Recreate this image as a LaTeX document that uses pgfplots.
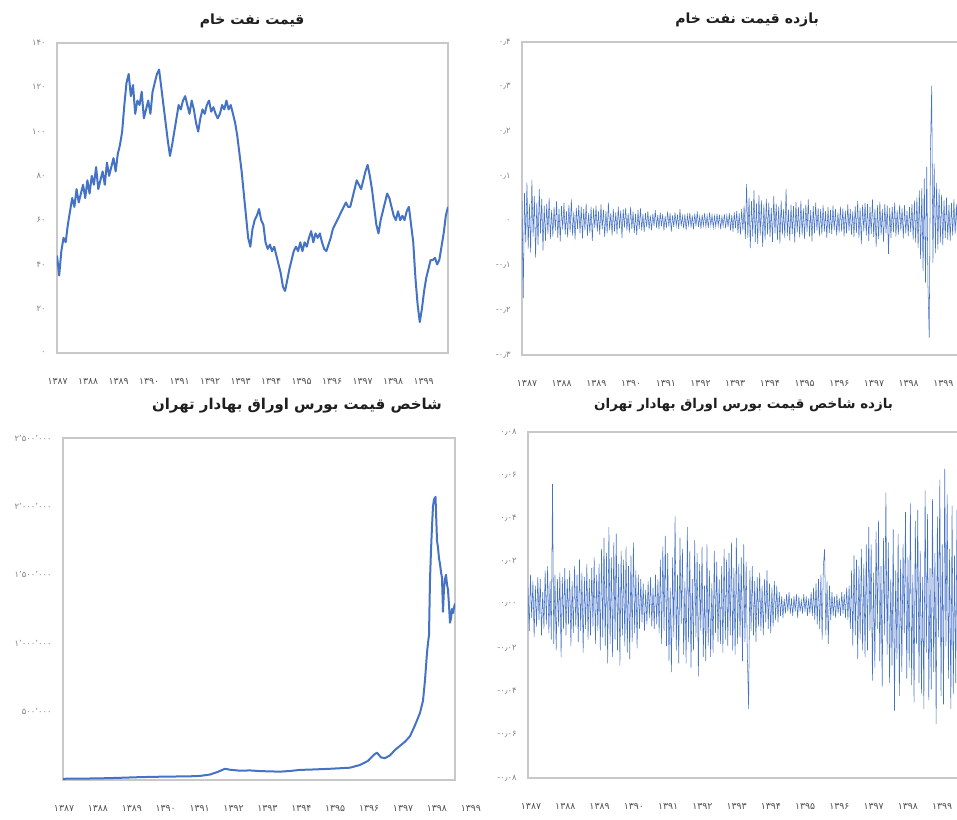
\documentclass[border=0pt]{standalone}
\usepackage{pgfplots}
\pgfplotsset{compat=1.18}
\usepackage{pgfplotstable}
\usepackage{fontspec}
\TeXXeTstate=1
\newfontfamily\fa[Script=Arabic]{DejaVu Sans}
\definecolor{lineblue}{RGB}{68,114,196}
\definecolor{boxgray}{RGB}{200,200,200}
\definecolor{tickgray}{RGB}{128,128,128}
\definecolor{yeargray}{RGB}{80,80,80}
\definecolor{titlegray}{RGB}{30,30,30}

\pgfplotstableread[row sep=\\]{r\\
44\\35\\46\\52\\50\\58\\64\\70\\66\\74\\68\\72\\76\\70\\78\\
72\\80\\76\\84\\74\\78\\82\\76\\86\\80\\84\\88\\82\\90\\94\\
100\\112\\122\\126\\116\\121\\108\\114\\112\\118\\106\\110\\114\\108\\118\\
122\\126\\128\\120\\112\\104\\96\\89\\94\\100\\106\\112\\110\\114\\116\\
112\\108\\114\\110\\104\\100\\106\\110\\108\\112\\114\\109\\111\\108\\106\\
108\\112\\110\\114\\110\\112\\108\\104\\98\\90\\82\\72\\62\\52\\48\\
56\\60\\62\\65\\60\\58\\50\\47\\49\\46\\48\\44\\40\\36\\30\\
28\\33\\38\\42\\46\\48\\46\\50\\46\\50\\48\\52\\55\\50\\54\\
52\\54\\50\\47\\46\\49\\52\\56\\58\\60\\62\\64\\66\\68\\66\\
66\\70\\74\\78\\76\\74\\78\\82\\85\\80\\74\\66\\58\\54\\60\\
64\\68\\72\\70\\66\\62\\60\\64\\60\\62\\60\\64\\66\\58\\50\\
34\\22\\14\\20\\28\\34\\38\\42\\42\\43\\40\\42\\48\\54\\62\\
66\\
}\oilprice

\pgfplotstableread[row sep=\\]{r\\
0.045\\-0.172\\0.062\\-0.048\\0.085\\-0.062\\0.038\\-0.071\\0.092\\-0.035\\
0.056\\-0.082\\0.041\\-0.054\\0.071\\-0.028\\0.049\\-0.066\\0.034\\-0.045\\
0.038\\-0.029\\0.052\\-0.041\\0.024\\-0.035\\0.031\\-0.022\\0.044\\-0.038\\
0.027\\-0.046\\0.033\\-0.019\\0.041\\-0.031\\0.022\\-0.037\\0.036\\-0.025\\
0.048\\-0.033\\0.021\\-0.042\\0.029\\-0.018\\0.035\\-0.028\\0.031\\-0.039\\
0.026\\-0.021\\0.039\\-0.034\\0.018\\-0.027\\0.032\\-0.045\\0.028\\-0.016\\
0.034\\-0.024\\0.021\\-0.031\\0.037\\-0.019\\0.025\\-0.036\\0.022\\-0.028\\
0.041\\-0.021\\0.018\\-0.033\\0.027\\-0.024\\0.019\\-0.029\\0.032\\-0.017\\
0.023\\-0.038\\0.026\\-0.015\\0.029\\-0.022\\0.017\\-0.026\\0.031\\-0.019\\
0.021\\-0.027\\0.016\\-0.032\\0.024\\-0.018\\0.028\\-0.021\\0.015\\-0.025\\
0.018\\-0.014\\0.022\\-0.019\\0.012\\-0.021\\0.016\\-0.011\\0.024\\-0.015\\
0.013\\-0.018\\0.019\\-0.012\\0.015\\-0.022\\0.011\\-0.016\\0.021\\-0.013\\
0.017\\-0.024\\0.012\\-0.014\\0.019\\-0.011\\0.014\\-0.018\\0.026\\-0.012\\
0.011\\-0.017\\0.015\\-0.021\\0.013\\-0.010\\0.018\\-0.015\\0.012\\-0.019\\
0.016\\-0.012\\0.021\\-0.014\\0.010\\-0.018\\0.014\\-0.011\\0.017\\-0.013\\
0.012\\-0.016\\0.019\\-0.010\\0.013\\-0.015\\0.011\\-0.013\\0.016\\-0.011\\
0.014\\-0.019\\0.010\\-0.012\\0.015\\-0.017\\0.012\\-0.014\\0.018\\-0.021\\
0.013\\-0.024\\0.019\\-0.016\\0.022\\-0.028\\0.017\\-0.031\\0.026\\-0.022\\
0.034\\-0.041\\0.082\\-0.038\\0.052\\-0.061\\0.044\\-0.035\\0.068\\-0.047\\
0.039\\-0.052\\0.058\\-0.033\\0.046\\-0.058\\0.037\\-0.042\\0.049\\-0.031\\
0.041\\-0.036\\0.029\\-0.047\\0.055\\-0.028\\0.038\\-0.043\\0.032\\-0.051\\
0.046\\-0.031\\0.027\\-0.039\\0.071\\-0.034\\0.025\\-0.044\\0.036\\-0.029\\
0.033\\-0.048\\0.042\\-0.026\\0.031\\-0.037\\0.045\\-0.032\\0.028\\-0.041\\
0.037\\-0.025\\0.048\\-0.035\\0.024\\-0.046\\0.033\\-0.028\\0.041\\-0.022\\
0.029\\-0.034\\0.026\\-0.031\\0.035\\-0.024\\0.022\\-0.038\\0.031\\-0.027\\
0.024\\-0.029\\0.034\\-0.021\\0.027\\-0.033\\0.019\\-0.026\\0.032\\-0.024\\
0.028\\-0.035\\0.023\\-0.028\\0.037\\-0.022\\0.026\\-0.031\\0.021\\-0.036\\
0.033\\-0.027\\0.044\\-0.038\\0.029\\-0.052\\0.036\\-0.024\\0.041\\-0.033\\
0.038\\-0.045\\0.031\\-0.029\\0.048\\-0.036\\0.027\\-0.058\\0.035\\-0.041\\
0.043\\-0.032\\0.026\\-0.047\\0.038\\-0.028\\0.034\\-0.074\\0.029\\-0.038\\
0.032\\-0.026\\0.041\\-0.035\\0.024\\-0.031\\0.036\\-0.022\\0.028\\-0.039\\
0.035\\-0.028\\0.022\\-0.034\\0.031\\-0.025\\0.038\\-0.042\\0.045\\-0.048\\
0.052\\-0.061\\0.068\\-0.085\\0.074\\-0.112\\0.095\\-0.138\\0.121\\-0.148\\
-0.262\\0.156\\0.302\\-0.094\\0.128\\-0.072\\
0.085\\-0.064\\0.071\\-0.048\\0.058\\-0.055\\0.046\\-0.038\\0.052\\-0.042\\
0.036\\-0.045\\0.041\\-0.033\\0.048\\-0.029\\0.037\\-0.041\\0.032\\-0.026\\
0.038\\-0.031\\0.027\\-0.022\\
}\oilret

\pgfplotstableread[row sep=\\]{t v\\
1386.970 9000\\ 1387.472 10000\\ 1388.062 12000\\ 1388.652 16000\\
1389.242 21000\\ 1389.832 24000\\ 1390.422 26000\\ 1390.717 27000\\
1391.012 30000\\ 1391.307 40000\\ 1391.543 60000\\ 1391.749 82000\\
1391.897 75000\\ 1392.192 68000\\ 1392.487 70000\\ 1392.782 65000\\
1393.077 63000\\ 1393.372 61000\\ 1393.667 66000\\ 1393.962 74000\\
1394.257 76000\\ 1394.552 79000\\ 1394.847 82000\\ 1395.142 86000\\
1395.437 90000\\ 1395.732 110000\\ 1395.968 140000\\ 1396.145 185000\\
1396.233 200000\\ 1396.351 165000\\ 1396.469 160000\\ 1396.617 180000\\
1396.764 220000\\ 1396.912 250000\\ 1397.059 280000\\ 1397.206 320000\\
1397.354 400000\\ 1397.501 490000\\ 1397.590 580000\\ 1397.649 730000\\
1397.708 930000\\ 1397.737 1000000\\ 1397.767 1060000\\ 1397.796 1460000\\
1397.826 1680000\\ 1397.855 1850000\\ 1397.885 2000000\\ 1397.914 2050000\\
1397.959 2070000\\ 1398.003 1750000\\ 1398.032 1700000\\ 1398.062 1620000\\
1398.091 1580000\\ 1398.121 1520000\\ 1398.150 1480000\\ 1398.180 1230000\\
1398.209 1400000\\ 1398.239 1470000\\ 1398.268 1500000\\ 1398.298 1430000\\
1398.327 1390000\\ 1398.357 1280000\\ 1398.386 1150000\\ 1398.416 1180000\\
1398.445 1250000\\ 1398.475 1220000\\ 1398.504 1260000\\ 1398.534 1290000\\
}\tse

\pgfplotstableread[row sep=\\]{r\\
0.008\\-0.012\\0.014\\-0.006\\0.011\\-0.015\\0.009\\-0.010\\0.013\\-0.007\\
0.012\\-0.014\\0.006\\-0.011\\0.016\\
-0.009\\0.018\\-0.013\\0.011\\-0.016\\0.056\\-0.018\\0.014\\-0.021\\0.012\\
-0.010\\0.015\\-0.024\\0.013\\-0.011\\0.017\\
-0.014\\0.012\\-0.009\\0.016\\-0.019\\0.011\\-0.013\\0.018\\-0.010\\0.014\\
-0.017\\0.021\\-0.012\\0.015\\-0.022\\0.013\\-0.011\\0.019\\-0.016\\0.012\\
-0.014\\0.017\\-0.010\\0.022\\-0.018\\0.014\\-0.012\\0.019\\
-0.021\\0.026\\-0.015\\0.031\\-0.019\\0.024\\-0.027\\0.036\\-0.018\\0.022\\
-0.024\\0.029\\-0.016\\0.033\\-0.021\\0.019\\-0.028\\0.025\\-0.014\\0.021\\
-0.019\\0.027\\-0.022\\0.018\\-0.025\\0.023\\-0.017\\0.029\\-0.013\\0.016\\
-0.020\\0.014\\-0.011\\
0.012\\-0.008\\0.010\\-0.012\\0.007\\-0.009\\0.011\\-0.006\\0.013\\-0.010\\
0.008\\-0.011\\0.014\\-0.009\\0.012\\-0.013\\
0.021\\-0.018\\0.027\\-0.012\\0.032\\-0.019\\0.024\\-0.026\\0.008\\-0.031\\
0.022\\-0.015\\0.041\\-0.021\\0.014\\-0.027\\0.031\\-0.009\\0.026\\-0.023\\
0.011\\-0.027\\0.036\\-0.017\\0.025\\-0.029\\0.012\\-0.021\\0.030\\-0.015\\
0.024\\-0.033\\0.019\\-0.012\\0.027\\-0.024\\0.009\\-0.026\\0.028\\-0.019\\
0.016\\-0.024\\0.010\\-0.022\\0.025\\-0.013\\0.020\\-0.017\\0.012\\-0.018\\
0.018\\-0.022\\0.026\\-0.016\\0.021\\-0.019\\0.024\\-0.014\\0.029\\-0.021\\
0.017\\-0.023\\0.031\\-0.018\\0.019\\-0.015\\0.022\\-0.026\\0.028\\-0.017\\
0.020\\-0.024\\-0.048\\
0.016\\-0.012\\0.018\\-0.014\\0.011\\-0.017\\0.013\\-0.010\\0.015\\-0.012\\
0.009\\-0.014\\0.012\\-0.008\\0.016\\-0.011\\0.010\\-0.013\\0.008\\-0.010\\
0.011\\-0.007\\0.009\\-0.008\\0.006\\
-0.005\\0.004\\-0.006\\0.003\\-0.004\\0.005\\-0.003\\0.006\\-0.004\\0.003\\
-0.005\\0.004\\-0.003\\0.005\\-0.006\\0.004\\-0.003\\0.002\\-0.004\\0.005\\
-0.003\\0.004\\-0.005\\0.003\\-0.004\\0.006\\-0.005\\0.008\\-0.007\\0.010\\
-0.009\\0.012\\-0.011\\0.014\\-0.016\\0.018\\0.026\\-0.014\\0.011\\-0.018\\
0.009\\-0.007\\0.006\\-0.005\\0.004\\-0.006\\0.005\\-0.004\\0.003\\-0.005\\
0.006\\-0.004\\0.005\\-0.006\\0.008\\-0.007\\0.009\\-0.011\\
0.016\\-0.019\\0.023\\-0.014\\0.021\\-0.025\\0.018\\-0.016\\0.026\\-0.021\\
0.019\\-0.024\\0.028\\
-0.021\\0.036\\-0.012\\0.028\\-0.035\\0.015\\-0.029\\0.034\\-0.011\\0.039\\
-0.026\\0.018\\-0.038\\0.031\\-0.014\\0.052\\-0.023\\0.029\\-0.036\\0.012\\
-0.028\\0.035\\-0.049\\0.016\\-0.025\\0.033\\-0.042\\0.021\\-0.031\\0.028\\
-0.013\\0.043\\-0.034\\0.022\\-0.029\\0.047\\-0.037\\0.014\\-0.045\\0.039\\
-0.018\\0.044\\-0.036\\0.025\\-0.041\\0.013\\-0.048\\0.053\\-0.022\\0.042\\
-0.044\\0.017\\-0.039\\0.049\\-0.031\\0.024\\-0.055\\0.041\\-0.015\\0.058\\
-0.042\\0.028\\-0.046\\0.063\\-0.019\\0.051\\-0.034\\0.026\\-0.048\\0.046\\
-0.041\\0.023\\-0.036\\0.044\\-0.017\\0.049\\-0.043\\0.021\\-0.034\\0.041\\
-0.029\\0.035\\-0.027\\
}\tseret

\pgfplotsset{
  panel/.style={
    scale only axis, anchor=south west,
    scaled y ticks=false, scaled x ticks=false,
    axis line style={draw=boxgray, line width=1pt},
    tick style={draw=none}, major tick length=0pt,
    yticklabel style={font=\fa\fontsize{6.3}{7}\selectfont, text=tickgray, xshift=-5pt},
    xticklabel style={font=\fa\fontsize{7}{8}\selectfont, text=yeargray, yshift=-15.5pt},
    title style={font=\fa\bfseries\fontsize{10.5}{12}\selectfont, text=titlegray, anchor=center},
  },
  years/.style={xticklabels={۱۳۸۷,۱۳۸۸,۱۳۸۹,۱۳۹۰,۱۳۹۱,۱۳۹۲,۱۳۹۳,۱۳۹۴,۱۳۹۵,۱۳۹۶,۱۳۹۷,۱۳۹۸,۱۳۹۹}},
}

\begin{document}
\begin{tikzpicture}
\path[use as bounding box] (0,0) rectangle (717.75pt,614.25pt);
\clip (0,0) rectangle (717.75pt,614.25pt);

% top left: oil price
\begin{axis}[panel, at={(42.75pt,349.5pt)}, width=293.25pt, height=232.5pt,
  xmin=0, xmax=180, ymin=0, ymax=140,
  xtick={0.3,14.34,...,169}, years,
  ytick={0,20,...,140}, yticklabels={۰,۲۰,۴۰,۶۰,۸۰,۱۰۰,۱۲۰,۱۴۰},
  title={\beginR قیمت نفت خام\endR},
  title style={at={(0.499,1)}, yshift=10.5pt}]
\addplot[lineblue, line width=1.5pt, line join=round] table[x expr=\coordindex, y=r]{\oilprice};
\end{axis}

% top right: oil return
\begin{axis}[panel, at={(391.5pt,348pt)}, width=332.25pt, height=234.75pt,
  xmin=0, xmax=359, ymin=-0.3, ymax=0.4,
  xtick={4.05,32.17,...,345}, years,
  ytick={-0.3,-0.2,-0.1,0,0.1,0.2,0.3,0.4},
  yticklabels={۰٫۳-,۰٫۲-,۰٫۱-,۰,۰٫۱,۰٫۲,۰٫۳,۰٫۴},
  title={\beginR بازده قیمت نفت خام\endR},
  title style={at={(0.508,1)}, yshift=10.5pt}]
\addplot[lineblue, line width=0.4pt] table[x expr=\coordindex, y=r]{\oilret};
\end{axis}

% bottom left: TSE index
\begin{axis}[panel, at={(47.25pt,29.25pt)}, width=294pt, height=256.5pt,
  xmin=1386.97, xmax=1398.534, ymin=0, ymax=2500000,
  xtick=\empty,
  ytick={500000,1000000,1500000,2000000,2500000},
  yticklabels={۵۰۰٬۰۰۰,۱٬۰۰۰٬۰۰۰,۱٬۵۰۰٬۰۰۰,۲٬۰۰۰٬۰۰۰,۲٬۵۰۰٬۰۰۰},
  title={\beginR شاخص قیمت بورس اوراق بهادار تهران\endR},
  title style={at={(0.597,1)}, yshift=18pt, font=\fa\bfseries\fontsize{11.2}{13}\selectfont}]
\addplot[lineblue, line width=1.5pt, line join=round] table[x=t, y=v]{\tse};
\end{axis}
\begin{axis}[panel, at={(47.25pt,29.25pt)}, width=320.25pt, height=256.5pt,
  xmin=1386.97, xmax=1399.566, ymin=0, ymax=1,
  hide y axis, axis x line*=bottom, x axis line style={draw=none},
  xtick={1387,1388,...,1399}, years]
\end{axis}

% bottom right: TSE return
\begin{axis}[panel, at={(396pt,30.75pt)}, width=330pt, height=259.5pt,
  xmin=0, xmax=359, ymin=-0.08, ymax=0.08,
  xtick={2.45,30.4,...,340}, years,
  ytick={-0.08,-0.06,-0.04,-0.02,0,0.02,0.04,0.06,0.08},
  yticklabels={۰٫۰۸-,۰٫۰۶-,۰٫۰۴-,۰٫۰۲-,۰٫۰۰,۰٫۰۲,۰٫۰۴,۰٫۰۶,۰٫۰۸},
  title={\beginR بازده شاخص قیمت بورس اوراق بهادار تهران\endR},
  title style={at={(0.49,1)}, yshift=14.25pt, font=\fa\bfseries\fontsize{10.1}{12}\selectfont}]
\addplot[lineblue, line width=0.4pt] table[x expr=\coordindex, y=r]{\tseret};
\end{axis}
\end{tikzpicture}
\end{document}
